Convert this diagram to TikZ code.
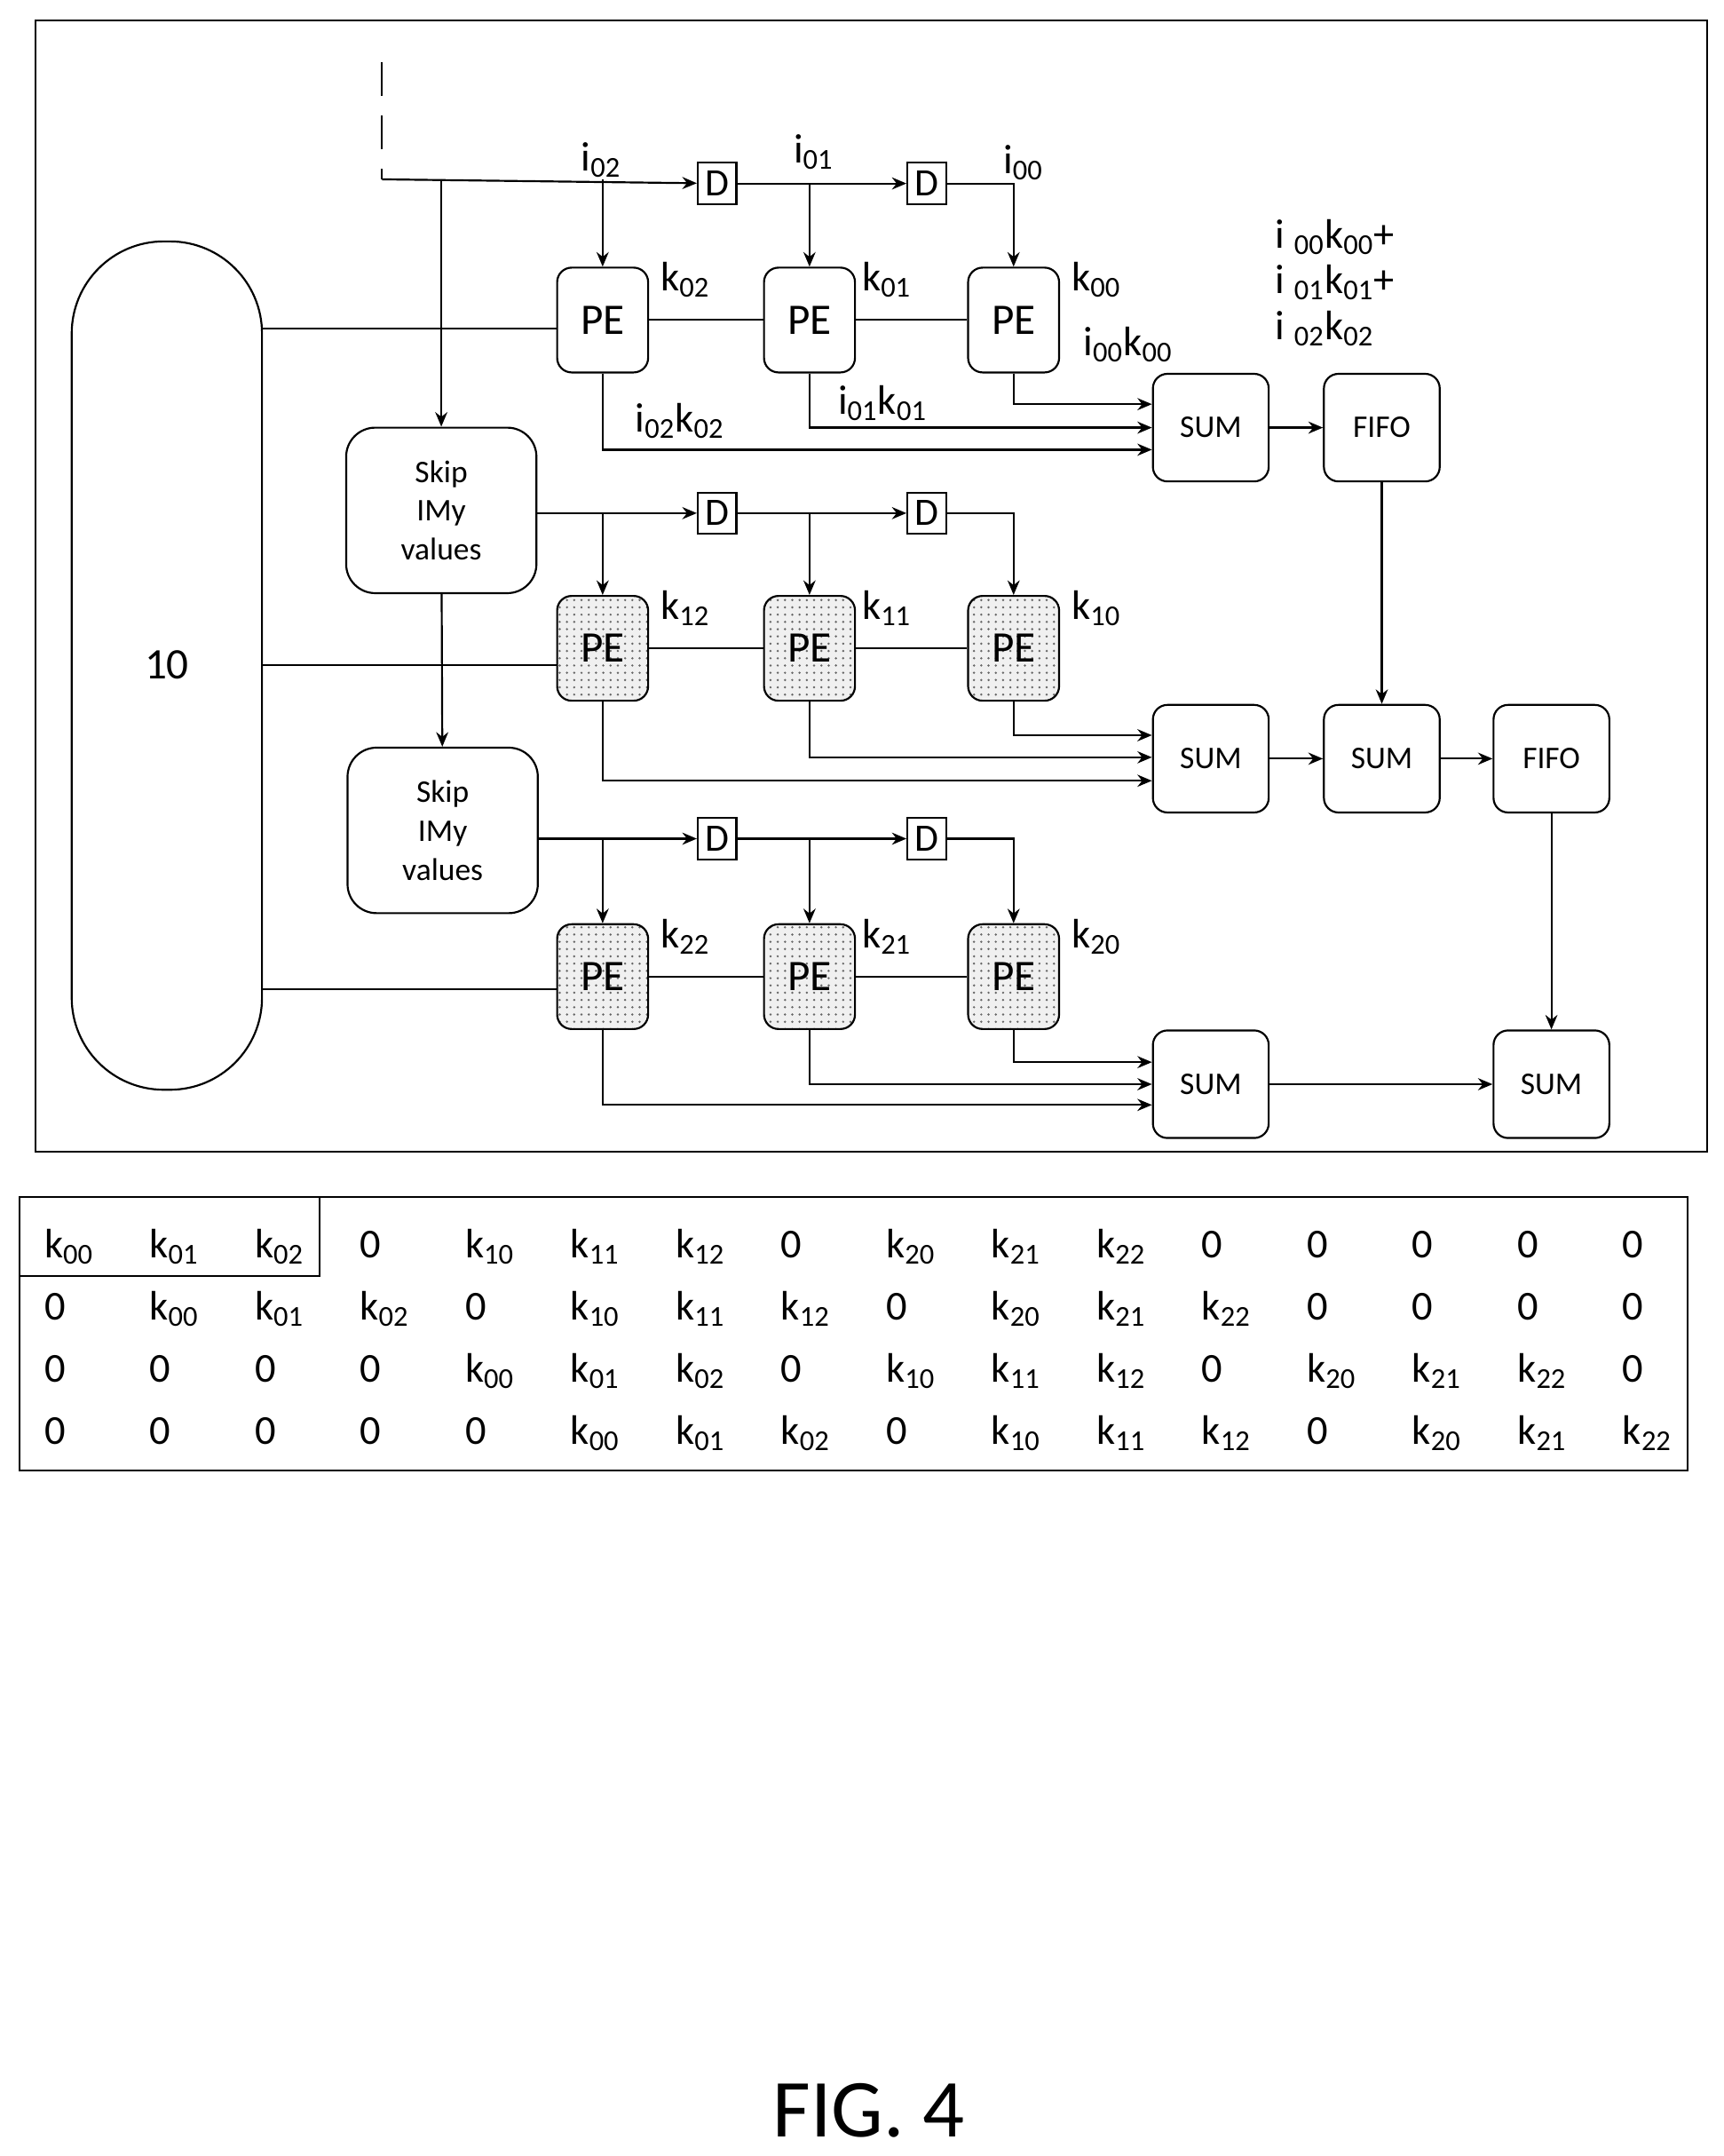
\documentclass[tikz,border=0pt]{standalone}
\usepackage{fontspec}
\setmainfont{Carlito}
\usetikzlibrary{arrows.meta,patterns}
\tikzset{
  pe/.style={draw,thick,rounded corners=6pt,minimum width=1.32cm,minimum height=1.52cm,font=\fontsize{18}{20}\selectfont},
  pedot/.style={pe,preaction={fill=gray!12},pattern=dots,pattern color=gray!80!black},
  blk/.style={draw,thick,rounded corners=6pt,minimum width=1.68cm,minimum height=1.56cm,font=\fontsize{13}{15}\selectfont},
  dly/.style={draw,thick,minimum width=0.56cm,minimum height=0.6cm,inner sep=0pt,font=\fontsize{16}{18}\selectfont},
  skip/.style={draw,thick,rounded corners=12pt,minimum width=2.76cm,minimum height=2.4cm,align=center,font=\fontsize{13}{16}\selectfont},
  lbl/.style={font=\fontsize{17}{19}\selectfont},
  ent/.style={font=\fontsize{17}{19}\selectfont},
  arr/.style={thick,-{Stealth[length=6pt,width=5pt]}},
}
\newcommand{\ksub}[1]{k\textsubscript{#1}}
\newcommand{\isub}[1]{i\textsubscript{#1}}
\begin{document}
\begin{tikzpicture}[x=0.02cm,y=-0.02cm]
\useasboundingbox (0,0) rectangle (1250,1563);
\draw[thick] (26,15) rectangle (1238,835);
% memory
\draw[thick,rounded corners=38pt] (52,175) rectangle (190,790);
\node[font=\fontsize{18}{20}\selectfont] (mem) at (121,482) {10};
% input
\coordinate (in0) at (277,45);
\coordinate (in1) at (277,130);
\draw[thick,dashed,dash pattern=on 14pt off 8pt] (in0) -- (in1);
% delays
\node[dly] (d1) at (520,133) {D};
\node[dly] (d2) at (672,133) {D};
\node[dly] (d3) at (520,372) {D};
\node[dly] (d4) at (672,372) {D};
\node[dly] (d5) at (520,608) {D};
\node[dly] (d6) at (672,608) {D};
% PEs
\node[pe] (p02) at (437,232) {PE};
\node[pe] (p01) at (587,232) {PE};
\node[pe] (p00) at (735,232) {PE};
\node[pedot] (p12) at (437,470) {PE};
\node[pedot] (p11) at (587,470) {PE};
\node[pedot] (p10) at (735,470) {PE};
\node[pedot] (p22) at (437,708) {PE};
\node[pedot] (p21) at (587,708) {PE};
\node[pedot] (p20) at (735,708) {PE};
% skip
\node[skip] (s1) at (320,370) {Skip\\IMy\\ values};
\node[skip] (s2) at (321,602) {Skip\\IMy\\ values};
% sums
\node[blk] (sum1) at (878,310) {SUM};
\node[blk] (fifo1) at (1002,310) {FIFO};
\node[blk] (sum2) at (878,550) {SUM};
\node[blk] (sum3) at (1002,550) {SUM};
\node[blk] (fifo2) at (1125,550) {FIFO};
\node[blk] (sum4) at (878,786) {SUM};
\node[blk] (sum5) at (1125,786) {SUM};
% k labels
\foreach \n/\x/\y in {02/497/203,01/643/203,00/795/203,12/497/441,11/643/441,10/795/441,22/497/679,21/643/679,20/795/679}
  \node[lbl] (k\n) at (\x,\y) {\ksub{\n}};
\node[lbl] (i02) at (436,116) {\isub{02}};
\node[lbl] (i01) at (590,110) {\isub{01}};
\node[lbl] (i00) at (742,118) {\isub{00}};
\node[lbl] (m00) at (818,250) {\isub{00}\ksub{00}};
\node[lbl] (m01) at (640,292) {\isub{01}\ksub{01}};
\node[lbl] (m02) at (493,305) {\isub{02}\ksub{02}};
\node[lbl,align=left] (tot) at (968,205) {i \textsubscript{00}\ksub{00}+\\i \textsubscript{01}\ksub{01}+\\i \textsubscript{02}\ksub{02}};
% input distribution
\draw[arr] (in1) -- (d1);
\draw[arr] (d1) -- (d2);
\draw[arr] (in1 -| 320,0) -- (s1);
\draw[arr] (s1) -- (s2);
\draw[arr] (in1 -| p02) -- (p02);
\draw[arr] (d1 -| p01) -- (p01);
\draw[arr] (d2) -| (p00);
\draw[arr] (s1.east |- d3) -- (d3);
\draw[arr] (d3) -- (d4);
\draw[arr] (d3 -| p12) -- (p12);
\draw[arr] (d4 -| p11) -- (p11);
\draw[arr] (d4) -| (p10);
\draw[arr] (s2.east |- d5) -- (d5);
\draw[arr] (d5) -- (d6);
\draw[arr] (d5 -| p22) -- (p22);
\draw[arr] (d6 -| p21) -- (p21);
\draw[arr] (d6) -| (p20);
% weight lines
\draw[thick] (190,238) -- (p02.west |- 0,238);
\draw[thick] (p02) -- (p01) -- (p00);
\draw[thick] (190,482) -- (p12.west |- 0,482);
\draw[thick] (p12) -- (p11) -- (p10);
\draw[thick] (190,717) -- (p22.west |- 0,717);
\draw[thick] (p22) -- (p21) -- (p20);
% products
\draw[arr] (p00.south) |- (sum1.west |- 0,293);
\draw[arr] (p01.south) |- (sum1.west |- 0,310);
\draw[arr] (p02.south) |- (sum1.west |- 0,326);
\draw[arr] (p10.south) |- (sum2.west |- 0,533);
\draw[arr] (p11.south) |- (sum2.west |- 0,549);
\draw[arr] (p12.south) |- (sum2.west |- 0,566);
\draw[arr] (p20.south) |- (sum4.west |- 0,770);
\draw[arr] (p21.south) |- (sum4.west |- 0,786);
\draw[arr] (p22.south) |- (sum4.west |- 0,801);
% accumulation
\draw[arr] (sum1) -- (fifo1);
\draw[arr] (fifo1) -- (sum3);
\draw[arr] (sum2) -- (sum3);
\draw[arr] (sum3) -- (fifo2);
\draw[arr] (fifo2) -- (sum5);
\draw[arr] (sum4) -- (sum5);
% table
\draw[thick] (14,868) rectangle (1224,1066);
\draw[thick] (14,925) -- (232,925) -- (232,868);
\foreach \row [count=\r] in {
  {\ksub{00},\ksub{01},\ksub{02},0,\ksub{10},\ksub{11},\ksub{12},0,\ksub{20},\ksub{21},\ksub{22},0,0,0,0,0},
  {0,\ksub{00},\ksub{01},\ksub{02},0,\ksub{10},\ksub{11},\ksub{12},0,\ksub{20},\ksub{21},\ksub{22},0,0,0,0},
  {0,0,0,0,\ksub{00},\ksub{01},\ksub{02},0,\ksub{10},\ksub{11},\ksub{12},0,\ksub{20},\ksub{21},\ksub{22},0},
  {0,0,0,0,0,\ksub{00},\ksub{01},\ksub{02},0,\ksub{10},\ksub{11},\ksub{12},0,\ksub{20},\ksub{21},\ksub{22}}}
  \foreach \e [count=\c] in \row
    \node[ent,anchor=base west] (t\r-\c) at ({26+76.3*(\c-1)},{912+45*(\r-1)}) {\e};
% caption
\node[font=\fontsize{34}{38}\selectfont] (fig) at (630,1530) {FIG. 4};
\end{tikzpicture}
\end{document}
